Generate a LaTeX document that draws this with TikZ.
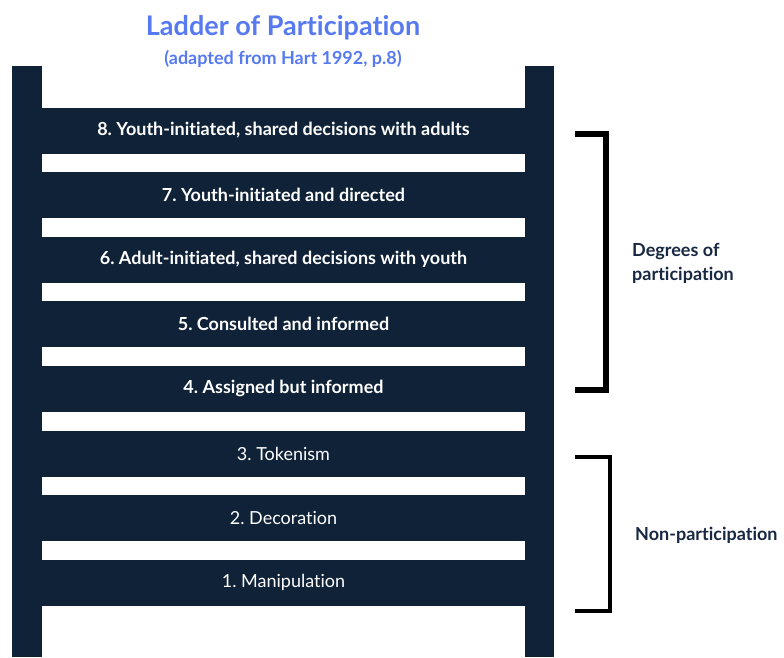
\documentclass[tikz,border=0pt]{standalone}
\usepackage{fontspec}
\setmainfont{Lato}[Ligatures=NoCommon]
\frenchspacing
\definecolor{navy}{RGB}{15,34,56}
\definecolor{titleblue}{RGB}{88,122,240}
\definecolor{labelnavy}{RGB}{24,40,66}
\begin{document}
\begin{tikzpicture}[x=1pt,y=-1pt,
  rail/.style={fill=navy,draw=none},
  rung/.style={fill=navy,draw=none,minimum width=483pt,minimum height=46pt,
    inner sep=0pt,text=white,font=\fontsize{18}{21}\selectfont},
  strong/.style={font=\fontsize{18}{21}\selectfont\bfseries},
  brace/.style={draw=black,line width=#1,line cap=butt,line join=miter},
  sidelabel/.style={text=labelnavy,font=\fontsize{18}{24}\selectfont\bfseries,
    align=left,anchor=west,inner sep=0pt}]
\useasboundingbox (0,0) rectangle (784,657);
\fill[white] (0,0) rectangle (784,657);

% title
\node[text=titleblue,font=\fontsize{27}{32}\selectfont\bfseries] (title) at (283,28) {Ladder of Participation};
\node[text=titleblue,font=\fontsize{18}{21}\selectfont\bfseries] (subtitle) at (283,59) {(adapted from Hart 1992, p.8)};

% rails
\fill[rail] (12,66) rectangle (42,657);
\fill[rail] (525,66) rectangle (554,657);

% rungs, from top to bottom
\node[rung,strong] (r8) at (283.5,130.5) {8. Youth-initiated, shared decisions with adults};
\node[rung,strong] (r7) at (283.5,195.1) {7. Youth-initiated and directed};
\node[rung,strong] (r6) at (283.5,259.7) {6. Adult-initiated, shared decisions with youth};
\node[rung,strong] (r5) at (283.5,324.3) {5. Consulted and informed};
\node[rung,strong] (r4) at (283.5,388.9) {4. Assigned but informed};
\node[rung] (r3) at (283.5,453.5) {3. Tokenism};
\node[rung] (r2) at (283.5,518.1) {2. Decoration};
\node[rung] (r1) at (283.5,582.7) {1. Manipulation};

% brackets
\coordinate (b1a) at (575,134);
\coordinate (b1b) at (575,390);
\draw[brace=6pt] (b1a) -- ++(31,0) |- (b1b);
\coordinate (b2a) at (575,456.5);
\coordinate (b2b) at (575,610.5);
\draw[brace=4pt] (b2a) -- ++(35,0) |- (b2b);

% side labels
\node[sidelabel] (deg) at (632,263) {Degrees of\\participation};
\node[sidelabel] (non) at (635,535) {Non-participation};
\end{tikzpicture}
\end{document}
